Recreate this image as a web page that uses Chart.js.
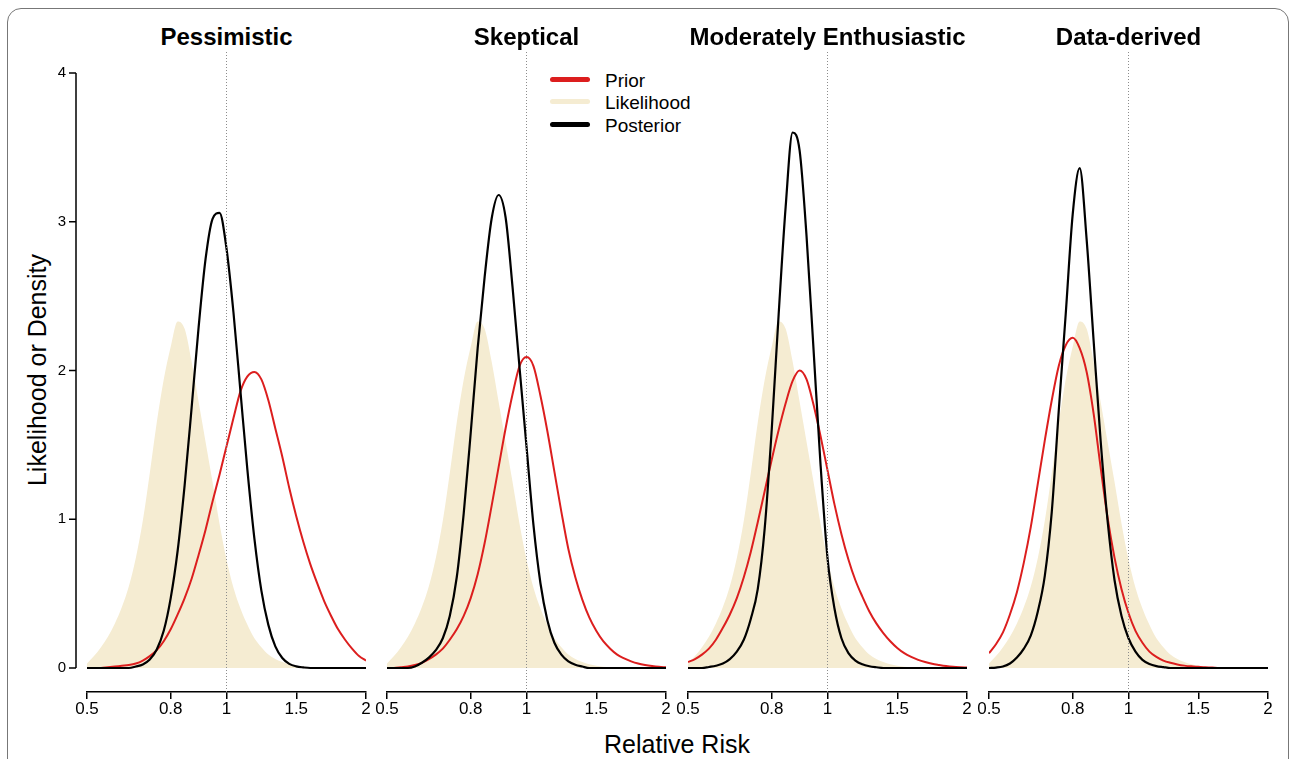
<!DOCTYPE html>
<html>
<head>
<meta charset="utf-8">
<script src="https://cdn.jsdelivr.net/npm/chart.js@4.4.0/dist/chart.umd.min.js"></script>
<style>
  body { margin: 0; width: 1290px; height: 759px; overflow: hidden; background: #fff; position: relative;
         font-family: "Liberation Sans", Helvetica, Arial, sans-serif; color: #000; }
  .frame { position: absolute; left: 7px; top: 8px; width: 1282px; height: 820px; box-sizing: border-box;
           border: 1.5px solid #777; border-radius: 14px; }
  canvas { position: absolute; }
  .ptitle { position: absolute; top: 23px; width: 400px; text-align: center; font-weight: bold; font-size: 24px; line-height: 28px; }
  .ytitle { position: absolute; left: 37px; top: 370px; font-size: 25px; white-space: nowrap;
            transform: translate(-50%, -50%) rotate(-90deg); }
  .xtitle { position: absolute; left: 677px; top: 744px; font-size: 25px; white-space: nowrap; transform: translate(-50%, -50%); }
  .leg { position: absolute; left: 550px; font-size: 19px; line-height: 22px; white-space: nowrap; }
  .leg span { display: inline-block; width: 40px; height: 5px; border-radius: 3px; vertical-align: middle; margin-right: 15px; position: relative; top: -2px; }
</style>
</head>
<body>
<div class="frame"></div>
<div class="ytitle">Likelihood or Density</div>
<div class="xtitle">Relative Risk</div>
<div class="leg" style="top:70px"><span style="background:#dc1e1e"></span>Prior</div>
<div class="leg" style="top:92px"><span style="background:#f5ecd2"></span>Likelihood</div>
<div class="leg" style="top:115px"><span style="background:#000"></span>Posterior</div>

<script>
// x is in plot units: RR 0.5, 0.8, 1, 1.5, 2 sit at 0, 0.6, 1, 1.5, 2
const xs = [0,0.05,0.1,0.15,0.2,0.25,0.3,0.35,0.4,0.45,0.5,0.55,0.6,0.65,0.7,0.75,0.8,0.85,0.9,0.95,
            1,1.05,1.1,1.15,1.2,1.25,1.3,1.35,1.4,1.45,1.5,1.55,1.6,1.65,1.7,1.75,1.8,1.85,1.9,1.95,2];
const xTickPos = [0, 0.6, 1, 1.5, 2];
const xTickLabels = ['0.5', '0.8', '1', '1.5', '2'];
const yTicks = [0, 1, 2, 3, 4];
const panelTitles = ['Pessimistic', 'Skeptical', 'Moderately Enthusiastic', 'Data-derived'];

// same likelihood in every panel
const likelihood = [0.03,0.08,0.14,0.21,0.30,0.41,0.55,0.74,0.99,1.31,1.65,1.94,2.16,2.33,2.28,2.06,1.79,1.52,1.25,0.97,
                    0.73,0.54,0.40,0.29,0.20,0.14,0.09,0.06,0.04,0.025,0.015,0.008,0.004,0,0,0,0,0,0,0,0];

const priorPess = [0,0,0,0.005,0.01,0.015,0.02,0.03,0.05,0.08,0.12,0.18,0.26,0.36,0.47,0.60,0.76,0.93,1.12,1.30,
                   1.49,1.68,1.86,1.96,1.99,1.94,1.80,1.61,1.42,1.21,1.02,0.85,0.70,0.57,0.45,0.35,0.26,0.19,0.13,0.08,0.05];
const postPess = [0,0,0,0,0,0,0,0.01,0.024,0.057,0.125,0.25,0.47,0.79,1.23,1.75,2.29,2.75,3.02,3.06,
                  2.82,2.39,1.86,1.33,0.87,0.52,0.29,0.145,0.067,0.028,0.011,0.004,0,0,0,0,0,0,0,0,0];

const priorSkep = [0,0,0.005,0.01,0.02,0.035,0.06,0.09,0.13,0.19,0.26,0.35,0.47,0.63,0.84,1.09,1.35,1.61,1.84,2.03,
                   2.09,2.03,1.83,1.59,1.32,1.05,0.80,0.61,0.46,0.34,0.25,0.18,0.13,0.09,0.065,0.045,0.03,0.02,0.013,0.008,0.005];
const postSkep = [0,0,0,0,0.01,0.035,0.07,0.12,0.20,0.35,0.61,1.04,1.58,2.15,2.63,3.02,3.18,3.03,2.56,2.02,
                  1.49,0.96,0.57,0.32,0.17,0.09,0.045,0.022,0.01,0,0,0,0,0,0,0,0,0,0,0,0];

const priorEnth = [0.04,0.06,0.09,0.13,0.19,0.27,0.36,0.47,0.61,0.78,0.98,1.19,1.40,1.60,1.78,1.93,2.00,1.94,1.77,1.56,
                   1.33,1.10,0.90,0.73,0.59,0.48,0.38,0.30,0.235,0.18,0.135,0.10,0.075,0.055,0.04,0.028,0.02,0.013,0.008,0.005,0.003];
const postEnth = [0,0,0,0.007,0.015,0.03,0.06,0.11,0.19,0.33,0.53,0.94,1.60,2.38,3.10,3.60,3.48,2.90,2.14,1.37,
                  0.74,0.40,0.20,0.10,0.05,0.025,0.012,0.005,0,0,0,0,0,0,0,0,0,0,0,0,0];

const priorData = [0.10,0.16,0.24,0.36,0.51,0.71,0.95,1.24,1.53,1.80,2.03,2.17,2.22,2.15,1.99,1.71,1.35,1.01,0.74,0.53,
                   0.37,0.25,0.17,0.11,0.075,0.05,0.035,0.024,0.016,0.011,0.008,0.005,0.003,0,0,0,0,0,0,0,0];
const postData = [0,0.003,0.01,0.03,0.07,0.13,0.22,0.38,0.62,1.05,1.73,2.38,3.05,3.36,2.88,2.20,1.53,0.99,0.59,0.35,
                  0.20,0.11,0.055,0.027,0.013,0.006,0,0,0,0,0,0,0,0,0,0,0,0,0,0,0];

const priors = [priorPess, priorSkep, priorEnth, priorData];
const posteriors = [postPess, postSkep, postEnth, postData];

// layout
const panelLeft = [87, 387, 688, 989];
const panelWidth = 279;
const canvasTop = 45, canvasHeight = 695;
const yMin = -0.1613; // x axis sits a bit below zero, like R's offset axes

Chart.defaults.font.family = '"Liberation Sans", Helvetica, Arial, sans-serif';
Chart.defaults.color = '#000';

const toXY = arr => arr.map((v, i) => ({x: xs[i], y: v}));

const offsetAxes = {
  id: 'offsetAxes',
  afterDatasetsDraw(chart) {
    const {ctx, chartArea, scales: {x, y}} = chart;
    ctx.save();
    // dotted reference line at RR = 1
    const x1 = x.getPixelForValue(1);
    ctx.strokeStyle = '#8c8c8c';
    ctx.lineWidth = 1;
    ctx.setLineDash([1, 2]);
    ctx.beginPath();
    ctx.moveTo(x1, 7);
    ctx.lineTo(x1, chartArea.bottom);
    ctx.stroke();
    ctx.setLineDash([]);
    // y axis, drawn left of the plot region
    if (y.options.display) {
      const ax = chartArea.left - 11;
      ctx.strokeStyle = '#000';
      ctx.lineWidth = 1.5;
      ctx.beginPath();
      ctx.moveTo(ax, y.getPixelForValue(0));
      ctx.lineTo(ax, y.getPixelForValue(4));
      yTicks.forEach(t => {
        const py = y.getPixelForValue(t);
        ctx.moveTo(ax - 7, py);
        ctx.lineTo(ax, py);
      });
      ctx.stroke();
    }
    ctx.restore();
  }
};

panelTitles.forEach((title, i) => {
  const t = document.createElement('div');
  t.className = 'ptitle';
  t.style.left = (panelLeft[i] + panelWidth / 2 - 200) + 'px';
  t.textContent = title;
  document.body.appendChild(t);

  const cv = document.createElement('canvas');
  const left = i === 0 ? 0 : panelLeft[i] - 15;
  const width = i === 0 ? panelLeft[0] + panelWidth + 15 : panelWidth + 30;
  cv.width = width;
  cv.height = canvasHeight;
  cv.style.left = left + 'px';
  cv.style.top = canvasTop + 'px';
  cv.style.width = width + 'px';
  cv.style.height = canvasHeight + 'px';
  document.body.appendChild(cv);

  new Chart(cv, {
    type: 'line',
    data: {
      datasets: [
        {label: 'Posterior', data: toXY(posteriors[i]), borderColor: '#000', borderWidth: 2.2,
         pointRadius: 0, fill: false, order: 1, cubicInterpolationMode: 'monotone'},
        {label: 'Prior', data: toXY(priors[i]), borderColor: '#dc1e1e', borderWidth: 2,
         pointRadius: 0, fill: false, order: 2, cubicInterpolationMode: 'monotone'},
        {label: 'Likelihood', data: toXY(likelihood), borderWidth: 0, borderColor: 'rgba(0,0,0,0)',
         backgroundColor: '#f5ecd2', pointRadius: 0, fill: 'origin', order: 3, cubicInterpolationMode: 'monotone'}
      ]
    },
    options: {
      responsive: false,
      animation: false,
      layout: {padding: {top: 28, bottom: 0, left: i === 0 ? 0 : 15, right: 15}},
      plugins: {legend: {display: false}, tooltip: {enabled: false}},
      scales: {
        x: {
          type: 'linear', min: 0, max: 2,
          afterBuildTicks: s => { s.ticks = xTickPos.map(v => ({value: v})); },
          afterFit: s => { s.height = 48; },
          ticks: {callback: (v, idx) => xTickLabels[idx], font: {size: 17}, color: '#000',
                  padding: 0, maxRotation: 0, autoSkip: false},
          grid: {drawOnChartArea: false, tickLength: 7, color: '#000', lineWidth: 1.5},
          border: {display: true, color: '#000', width: 1.5}
        },
        y: {
          type: 'linear', min: yMin, max: 4, display: i === 0,
          afterBuildTicks: s => { s.ticks = yTicks.map(v => ({value: v})); },
          afterFit: s => { if (i === 0) s.width = panelLeft[0]; },
          ticks: {font: {size: 15}, color: '#000', padding: 13},
          grid: {display: false},
          border: {display: false}
        }
      }
    },
    plugins: [offsetAxes]
  });
});
</script>
</body>
</html>
